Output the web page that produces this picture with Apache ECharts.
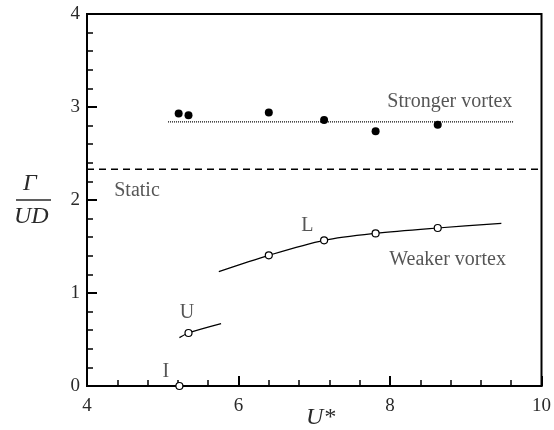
<!DOCTYPE html>
<html>
<head>
<meta charset="utf-8">
<script src="https://cdn.jsdelivr.net/npm/echarts@6/dist/echarts.min.js"></script>
<style>
  html, body { margin: 0; padding: 0; background: #fff; }
  #chart { width: 554px; height: 430px; }
</style>
</head>
<body>
<div id="chart"></div>
<script>
// Circulation of the shed vortices versus reduced velocity U*
const xTicks = [4, 6, 8, 10];
const yTicks = [0, 1, 2, 3, 4];

// Stronger vortex (filled dots) and its mean level
const strongX = [5.21, 5.34, 6.40, 7.13, 7.81, 8.63];
const strongY = [2.93, 2.91, 2.94, 2.86, 2.74, 2.81];
const strongMeanX = [5.07, 9.63];
const strongMeanY = [2.84, 2.84];

// Static cylinder level
const staticX = [4, 10];
const staticY = [2.33, 2.33];

// Weaker vortex (open circles), branches I, U, L
const weakX = [5.22, 5.34, 6.40, 7.13, 7.81, 8.63];
const weakY = [0.00, 0.57, 1.405, 1.566, 1.641, 1.699];

// Fitted curves through the U and L branches
const curveUX = [5.22, 5.34, 5.77];
const curveUY = [0.52, 0.57, 0.67];
const curveLX = [5.74, 6.40, 7.13, 7.81, 8.63, 9.47];
const curveLY = [1.23, 1.405, 1.566, 1.641, 1.699, 1.749];

// Annotations placed in data coordinates
const noteText = ['I', 'U', 'L', 'Static', 'Stronger vortex', 'Weaker vortex'];
const noteX = [5.04, 5.32, 6.91, 4.66, 8.79, 8.76];
const noteY = [0.15, 0.785, 1.72, 2.10, 3.06, 1.355];

const zip = (xs, ys) => xs.map((x, i) => [x, ys[i]]);
const serif = '"Liberation Serif", "DejaVu Serif", serif';
const ink = '#000';
const textInk = '#2a2a2a';

const chart = echarts.init(document.getElementById('chart'), null, { renderer: 'canvas' });

const axisCommon = {
  axisLine: { show: true, onZero: false, lineStyle: { color: ink, width: 2 } },
  axisTick: { show: true, inside: true, length: 10, lineStyle: { color: ink, width: 2 } },
  minorTick: { show: true, splitNumber: 5, length: 6, lineStyle: { color: ink, width: 1.5 } },
  splitLine: { show: false },
  minorSplitLine: { show: false },
  axisLabel: { color: textInk, fontFamily: serif, fontSize: 19 }
};

chart.setOption({
  animation: false,
  backgroundColor: '#fff',
  grid: {
    left: 87, right: 7, top: 14, bottom: 44,
    show: true, borderColor: ink, borderWidth: 2, backgroundColor: 'transparent'
  },
  xAxis: Object.assign({}, axisCommon, {
    type: 'value', min: xTicks[0], max: xTicks[xTicks.length - 1], interval: 2,
    minorTick: Object.assign({}, axisCommon.minorTick, { inside: true }),
    axisLabel: Object.assign({}, axisCommon.axisLabel, { margin: 11 })
  }),
  yAxis: Object.assign({}, axisCommon, {
    type: 'value', min: yTicks[0], max: yTicks[yTicks.length - 1], interval: 1,
    minorTick: Object.assign({}, axisCommon.minorTick, { inside: true }),
    axisLabel: Object.assign({}, axisCommon.axisLabel, { margin: 7 })
  }),
  graphic: [
    { type: 'text', left: 23, top: 172,
      style: { text: 'Γ', font: 'italic 24px ' + serif, fill: textInk } },
    { type: 'line', shape: { x1: 16, y1: 200, x2: 51, y2: 200 },
      style: { stroke: textInk, lineWidth: 1.5 } },
    { type: 'text', left: 14, top: 205,
      style: { text: 'UD', font: 'italic 24px ' + serif, fill: textInk } },
    { type: 'text', left: 306, top: 406,
      style: { text: 'U*', font: 'italic 24px ' + serif, fill: textInk } }
  ],
  series: [
    {
      type: 'line', data: zip(staticX, staticY), symbol: 'none', silent: true,
      lineStyle: { color: ink, width: 1.5, type: [7, 5] }
    },
    {
      type: 'line', data: zip(strongMeanX, strongMeanY), symbol: 'none', silent: true,
      lineStyle: { color: ink, width: 1.3, type: [1, 1] }
    },
    {
      type: 'line', data: zip(curveUX, curveUY), symbol: 'none', smooth: 0.3,
      lineStyle: { color: ink, width: 1.2 }
    },
    {
      type: 'line', data: zip(curveLX, curveLY), symbol: 'none', smooth: 0.3,
      lineStyle: { color: ink, width: 1.2 }
    },
    {
      type: 'scatter', data: zip(strongX, strongY), symbol: 'circle', symbolSize: 8,
      itemStyle: { color: ink, opacity: 1 }
    },
    {
      type: 'scatter', data: zip(weakX, weakY), symbol: 'circle', symbolSize: 7,
      itemStyle: { color: '#fff', borderColor: ink, borderWidth: 1.2, opacity: 1 }, z: 5
    },
    {
      type: 'scatter', data: zip(noteX, noteY).map((p, i) => ({ value: p, name: noteText[i] })),
      symbolSize: 0, silent: true,
      label: {
        show: true, position: 'inside', formatter: p => p.name,
        color: textInk, fontFamily: serif, fontSize: 20
      }
    }
  ]
});
</script>
</body>
</html>
